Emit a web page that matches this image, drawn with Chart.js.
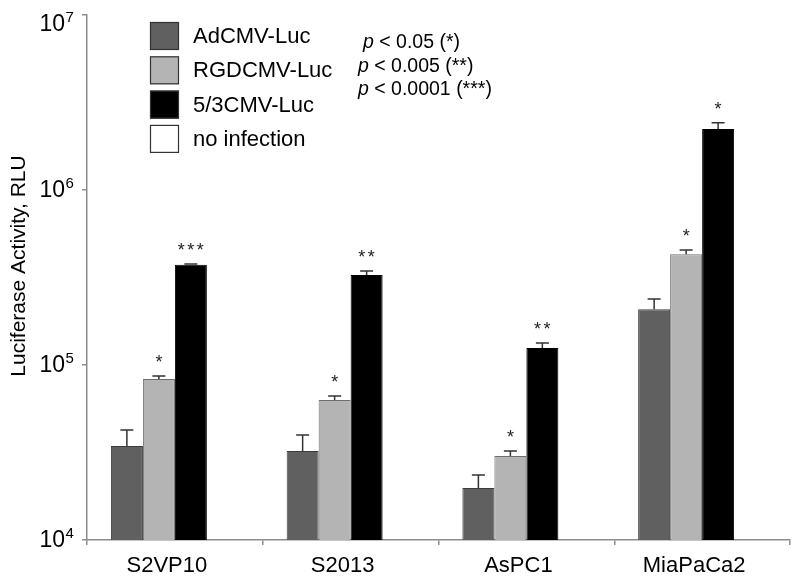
<!DOCTYPE html>
<html>
<head>
<meta charset="utf-8">
<script src="https://cdn.jsdelivr.net/npm/chart.js@4"></script>
<style>
  html, body { margin:0; padding:0; background:#fff; }
  #wrap { width:800px; height:576px; }
</style>
</head>
<body>
<div id="wrap"><canvas id="chart" width="800" height="576"></canvas></div>
<script>
// data
const categories = ['S2VP10', 'S2013', 'AsPC1', 'MiaPaCa2'];
const seriesNames = ['AdCMV-Luc', 'RGDCMV-Luc', '5/3CMV-Luc', 'no infection'];
const adCmv    = [34400, 32300, 19800, 208000];
const adCmvErr = [8100, 7500, 3700, 30000];
const rgdCmv    = [83200, 63100, 30200, 429000];
const rgdCmvErr = [3300, 3400, 2100, 25000];
const f53Cmv    = [374000, 327000, 125000, 2230000];
const f53CmvErr = [4000, 17000, 8600, 196000];
const noInfection = [null, null, null, null]; // below the axis, not visible
const stars = [['', '*', '***'], ['', '*', '**'], ['', '*', '**'], ['', '*', '*']];
const yTicks = [1e4, 1e5, 1e6, 1e7];
const pNotes = [['p', ' < 0.05 (*)'], ['p', ' < 0.005 (**)'], ['p', ' < 0.0001 (***)']];

const FONT = 'Arial, "Liberation Sans", sans-serif';
const AXIS = '#8c8c8c';

// error bars + significance stars
const errPlugin = {
  id: 'errbars',
  afterDatasetsDraw(chart) {
    const ctx = chart.ctx;
    const y = chart.scales.y;
    const errs = [adCmvErr, rgdCmvErr, f53CmvErr];
    ctx.save();
    errs.forEach((err, di) => {
      const meta = chart.getDatasetMeta(di);
      meta.data.forEach((bar, i) => {
        const v = chart.data.datasets[di].data[i];
        if (v == null) return;
        const top = y.getPixelForValue(v + err[i]);
        ctx.strokeStyle = '#333';
        ctx.lineWidth = 1.5;
        ctx.beginPath();
        ctx.moveTo(bar.x, bar.y);
        ctx.lineTo(bar.x, top);
        ctx.moveTo(bar.x - 6.5, top);
        ctx.lineTo(bar.x + 6.5, top);
        ctx.stroke();
        const s = stars[i][di];
        if (s) {
          ctx.fillStyle = '#222';
          ctx.font = '18px ' + FONT;
          ctx.textAlign = 'center';
          ctx.textBaseline = 'top';
          const step = 9.5;
          for (let k = 0; k < s.length; k++) {
            const cx = bar.x + (k - (s.length - 1) / 2) * step;
            ctx.fillText('*', cx, top - 22);
          }
        }
      });
    });
    ctx.restore();
  }
};

// tick labels, axis title, legend, p-value notes
const decorPlugin = {
  id: 'decor',
  afterDraw(chart) {
    const ctx = chart.ctx;
    const y = chart.scales.y;
    const x = chart.scales.x;
    ctx.save();
    ctx.fillStyle = '#000';
    ctx.textBaseline = 'middle';
    yTicks.forEach(t => {
      const py = Math.max(y.getPixelForValue(t), 24);
      const exp = String(Math.round(Math.log10(t)));
      ctx.font = '23px ' + FONT;
      ctx.textAlign = 'right';
      ctx.fillText('10', 65, py + 1);
      ctx.font = '15px ' + FONT;
      ctx.textAlign = 'left';
      ctx.fillText(exp, 65.5, py - 6);
    });

    // category labels
    ctx.font = '22px ' + FONT;
    ctx.textAlign = 'center';
    categories.forEach((c, i) => {
      ctx.fillText(c, x.getPixelForValue(i) - 8, 566);
    });

    // axis title
    ctx.save();
    ctx.translate(19, 266);
    ctx.rotate(-Math.PI / 2);
    ctx.font = '21px ' + FONT;
    ctx.textAlign = 'center';
    ctx.fillText('Luciferase Activity, RLU', 0, 0);
    ctx.restore();

    // legend
    chart.data.datasets.forEach((ds, i) => {
      const by = 22 + i * 34.3;
      ctx.fillStyle = ds.backgroundColor;
      ctx.fillRect(150, by, 29, 28);
      ctx.strokeStyle = '#333';
      ctx.lineWidth = 1.2;
      ctx.strokeRect(150.5, by + 0.5, 28, 27);
      ctx.fillStyle = '#000';
      ctx.font = '22px ' + FONT;
      ctx.textAlign = 'left';
      ctx.fillText(ds.label, 193, by + 15);
    });

    // p-value notes
    const px = [363, 358, 358];
    pNotes.forEach((n, i) => {
      const py = 43 + i * 23.5;
      ctx.font = 'italic 19.5px ' + FONT;
      ctx.fillText(n[0], px[i], py);
      const w = ctx.measureText(n[0]).width;
      ctx.font = '19.5px ' + FONT;
      ctx.fillText(n[1], px[i] + w, py);
    });
    ctx.restore();
  }
};

const ctx = document.getElementById('chart').getContext('2d');
new Chart(ctx, {
  type: 'bar',
  data: {
    labels: categories,
    datasets: [
      { label: seriesNames[0], data: adCmv, backgroundColor: '#606060', borderColor: '#3c3c3c', borderWidth: 1 },
      { label: seriesNames[1], data: rgdCmv, backgroundColor: '#b4b4b4', borderColor: '#6e6e6e', borderWidth: 1 },
      { label: seriesNames[2], data: f53Cmv, backgroundColor: '#000000', borderColor: '#000000', borderWidth: 1 },
      { label: seriesNames[3], data: noInfection, backgroundColor: '#ffffff', borderColor: '#333', borderWidth: 1 }
    ]
  },
  options: {
    responsive: false,
    animation: false,
    layout: { padding: { left: 82, right: 10, top: 15, bottom: 31 } },
    plugins: { legend: { display: false }, tooltip: { enabled: false } },
    datasets: { bar: { categoryPercentage: 0.728, barPercentage: 1 } },
    scales: {
      x: {
        offset: true,
        grid: { display: true, offset: true, drawOnChartArea: false, tickLength: 5, color: AXIS, lineWidth: 1.5 },
        border: { color: AXIS, width: 1.5 },
        ticks: { display: false }
      },
      y: {
        type: 'logarithmic',
        min: 1e4,
        max: 1e7,
        afterBuildTicks(scale) { scale.ticks = yTicks.map(v => ({ value: v })); },
        grid: { display: true, drawOnChartArea: false, tickLength: 5, color: AXIS, lineWidth: 1.5 },
        border: { color: AXIS, width: 1.5 },
        ticks: { display: false }
      }
    }
  },
  plugins: [errPlugin, decorPlugin]
});
</script>
</body>
</html>
